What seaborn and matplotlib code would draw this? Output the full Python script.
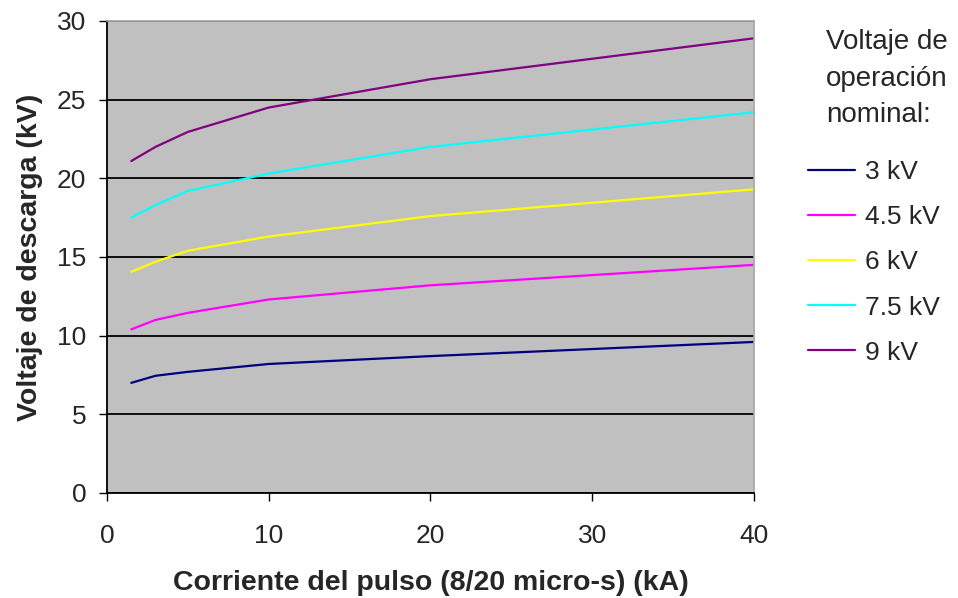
import pandas as pd
import seaborn as sns
import matplotlib.pyplot as plt

# Datos
corriente = [1.5, 3, 5, 10, 20, 40]
series = ["3 kV", "4.5 kV", "6 kV", "7.5 kV", "9 kV"]
v_3 = [7.0, 7.45, 7.7, 8.2, 8.7, 9.6]
v_45 = [10.4, 11.0, 11.45, 12.3, 13.2, 14.5]
v_6 = [14.05, 14.7, 15.4, 16.3, 17.6, 19.3]
v_75 = [17.5, 18.3, 19.2, 20.3, 22.0, 24.2]
v_9 = [21.1, 22.0, 22.95, 24.5, 26.3, 28.9]
colores = ["#000080", "#FF00FF", "#FFFF00", "#00FFFF", "#800080"]

filas = []
for nombre, valores in zip(series, [v_3, v_45, v_6, v_75, v_9]):
    for x, y in zip(corriente, valores):
        filas.append({"Corriente": x, "Voltaje": y, "Serie": nombre})
df = pd.DataFrame(filas)

sns.set_theme(style="white")
plt.rcParams["font.family"] = ["Liberation Sans", "DejaVu Sans"]

fig = plt.figure(figsize=(9.58, 5.98), dpi=100)
ax = fig.add_axes([0.1117, 0.1756, 0.787 - 0.1117, 0.9649 - 0.1756])
ax.set_facecolor("#C0C0C0")

sns.lineplot(data=df, x="Corriente", y="Voltaje", hue="Serie",
             hue_order=series, palette=colores, linewidth=1.6, ax=ax)

ax.set_xlim(0, 40)
ax.set_ylim(0, 30)
ax.set_xticks([0, 10, 20, 30, 40])
ax.set_yticks(range(0, 31, 5))
ax.yaxis.grid(True, color="black", linewidth=1.3)
ax.set_axisbelow(True)
for s in ["top", "right"]:
    ax.spines[s].set_color("#A8A8A8")
for s in ["left", "bottom"]:
    ax.spines[s].set_color("black")
    ax.spines[s].set_linewidth(1.3)
ax.tick_params(axis="both", direction="out", length=6, width=1, color="black",
               labelsize=19, bottom=True, left=True)
ax.tick_params(axis="y", pad=9)
ax.tick_params(axis="x", pad=16)

ax.set_xlabel("Corriente del pulso (8/20 micro-s) (kA)", fontsize=20.5,
              fontweight="bold", labelpad=16)
ax.set_ylabel("Voltaje de descarga (kV)", fontsize=20.5, fontweight="bold",
              labelpad=10)

fig.text(0.862, 0.952, "Voltaje de\noperación\nnominal:", fontsize=20,
         va="top", ha="left", linespacing=1.54)
ax.legend(loc="upper left", bbox_to_anchor=(1.0835, 0.705), frameon=False,
          fontsize=19, handlelength=1.8, handletextpad=0.38, labelspacing=0.8,
          borderpad=0, borderaxespad=0)

fig.savefig("out.png", dpi=100)
